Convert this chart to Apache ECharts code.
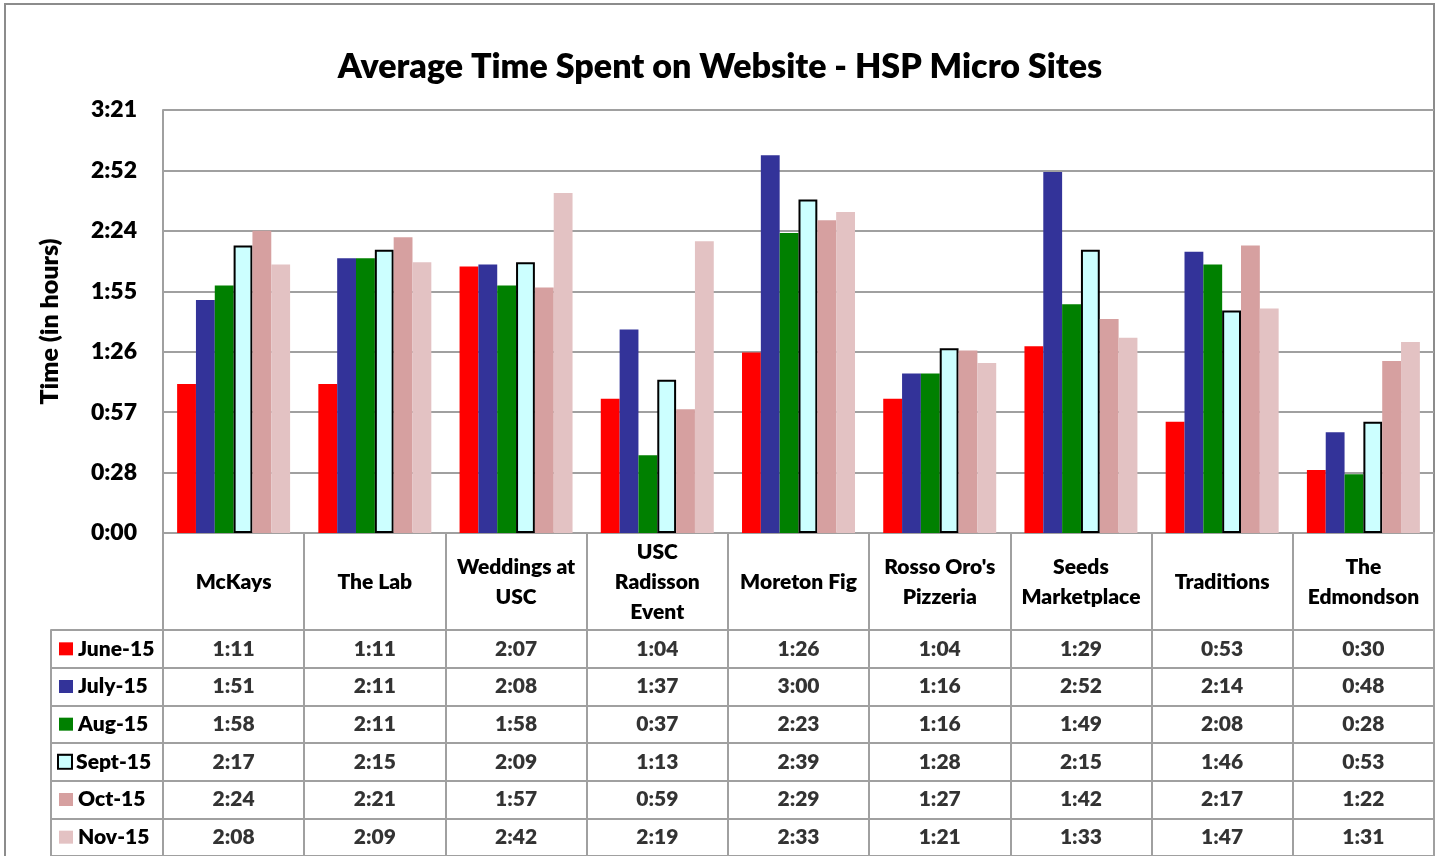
<!DOCTYPE html>
<html>
<head>
<meta charset="utf-8">
<script src="https://cdn.jsdelivr.net/npm/echarts@6/dist/echarts.min.js"></script>
<style>
  html, body { margin: 0; padding: 0; background: #fff; }
  #main { width: 1440px; height: 856px; }
</style>
</head>
<body>
<div id="main"></div>
<script>
// sites (line breaks as they wrap in the table header)
const categories = ['McKays', 'The Lab', 'Weddings at\nUSC', 'USC\nRadisson\nEvent', 'Moreton Fig',
  "Rosso Oro's\nPizzeria", 'Seeds\nMarketplace', 'Traditions', 'The\nEdmondson'];
const months = ['June-15', 'July-15', 'Aug-15', 'Sept-15', 'Oct-15', 'Nov-15'];

// average time, h:mm
const june = ['1:11', '1:11', '2:07', '1:04', '1:26', '1:04', '1:29', '0:53', '0:30'];
const july = ['1:51', '2:11', '2:08', '1:37', '3:00', '1:16', '2:52', '2:14', '0:48'];
const aug  = ['1:58', '2:11', '1:58', '0:37', '2:23', '1:16', '1:49', '2:08', '0:28'];
const sept = ['2:17', '2:15', '2:09', '1:13', '2:39', '1:28', '2:15', '1:46', '0:53'];
const oct  = ['2:24', '2:21', '1:57', '0:59', '2:29', '1:27', '1:42', '2:17', '1:22'];
const nov  = ['2:08', '2:09', '2:42', '2:19', '2:33', '1:21', '1:33', '1:47', '1:31'];

const colors = ['#FF0000', '#333399', '#008000', '#CCFFFF', '#D6A0A0', '#E3C2C3'];

const allRows = [june, july, aug, sept, oct, nov];
const FONT = 'Lato';
const W = 800;
const GRAY = '#a0a0a0';

const toMin = (s) => {
  const p = s.split(':');
  return +p[0] * 60 + +p[1];
};
const fmtTick = (v) => {
  const m = Math.floor(Math.round(v * 1000) / 1000);
  const h = Math.floor(m / 60);
  const mm = m % 60;
  return h + ':' + (mm < 10 ? '0' : '') + mm;
};

const chart = echarts.init(document.getElementById('main'));

const line = {color: GRAY, width: 2};

const rich = {n: {fontFamily: FONT, fontSize: 21, fontWeight: W, color: '#000', padding: [0, 0, 0, 5]}};
months.forEach((m, i) => {
  rich['k' + i] = {
    width: i === 3 ? 12 : 14,
    height: i === 3 ? 12 : 13,
    backgroundColor: colors[i],
    borderColor: i === 3 ? '#000' : colors[i],
    borderWidth: i === 3 ? 2 : 0,
  };
});

const bars = months.map((m, i) => ({
  name: m,
  type: 'bar',
  xAxisIndex: 0,
  yAxisIndex: 0,
  barGap: '0%',
  barCategoryGap: '20%',
  data: allRows[i].map(toMin),
  itemStyle: i === 3 ?
    {color: colors[i], borderColor: '#000', borderWidth: 2} :
    {color: colors[i]},
}));

const cells = [];
allRows.forEach((row, s) => {
  row.forEach((v, c) => cells.push([c, s, v]));
});

const option = {
  animation: false,
  textStyle: {fontFamily: FONT},
  title: {
    text: 'Average Time Spent on Website - HSP Micro Sites',
    left: 'center',
    top: 45,
    textStyle: {fontFamily: FONT, fontSize: 34, fontWeight: W, color: '#000'},
  },
  graphic: [{
    type: 'rect',
    z: -10,
    shape: {x: 5, y: 4, width: 1429, height: 900},
    style: {fill: '#fff', stroke: '#8c8c8c', lineWidth: 2},
  }],
  grid: [
    {left: 163, right: 6, top: 110, bottom: 323},
    {left: 163, right: 6, top: 630, bottom: -4},
  ],
  xAxis: [
    {
      type: 'category',
      gridIndex: 0,
      data: categories,
      axisLine: {lineStyle: line},
      axisTick: {show: true, interval: 0, length: 97, lineStyle: line},
      axisLabel: {
        interval: 0, margin: 49, verticalAlign: 'middle', lineHeight: 30,
        fontFamily: FONT, fontSize: 21, fontWeight: W, color: '#000',
      },
    },
    {
      type: 'category',
      gridIndex: 1,
      position: 'top',
      data: categories,
      axisLine: {lineStyle: line},
      axisTick: {show: false},
      axisLabel: {show: false},
      splitLine: {show: true, interval: 0, lineStyle: line},
    },
  ],
  yAxis: [
    {
      type: 'value',
      gridIndex: 0,
      position: 'left',
      min: 0,
      max: 201.6,
      interval: 28.8,
      name: 'Time (in hours)',
      nameLocation: 'middle',
      nameGap: 101,
      nameTextStyle: {fontFamily: FONT, fontSize: 25, fontWeight: W, color: '#000'},
      axisLine: {show: true, lineStyle: line},
      axisTick: {show: false},
      axisLabel: {
        formatter: fmtTick, margin: 26,
        fontFamily: FONT, fontSize: 23, fontWeight: W, color: '#000',
      },
      splitLine: {lineStyle: line},
    },
    {
      type: 'category',
      gridIndex: 1,
      position: 'left',
      inverse: true,
      data: months,
      axisLine: {show: true, lineStyle: line},
      axisTick: {show: true, interval: 0, length: 112, lineStyle: line},
      axisLabel: {
        interval: 0, align: 'left', margin: 104,
        formatter: (val, idx) => '{k' + idx + '|}{n|' + val + '}',
        rich: rich,
      },
      splitLine: {show: true, interval: 0, lineStyle: line},
    },
    {
      type: 'category',
      gridIndex: 1,
      position: 'left',
      offset: 112,
      inverse: true,
      data: months,
      axisLine: {show: true, lineStyle: line},
      axisTick: {show: false},
      axisLabel: {show: false},
    },
  ],
  series: bars.concat([{
    type: 'scatter',
    xAxisIndex: 1,
    yAxisIndex: 1,
    symbolSize: 1,
    itemStyle: {color: 'rgba(0,0,0,0)'},
    silent: true,
    data: cells,
    label: {
      show: true,
      position: 'inside',
      formatter: (p) => p.value[2],
      fontFamily: FONT, fontSize: 21, fontWeight: W, color: '#000',
    },
  }]),
};

chart.setOption(option);
</script>
</body>
</html>
